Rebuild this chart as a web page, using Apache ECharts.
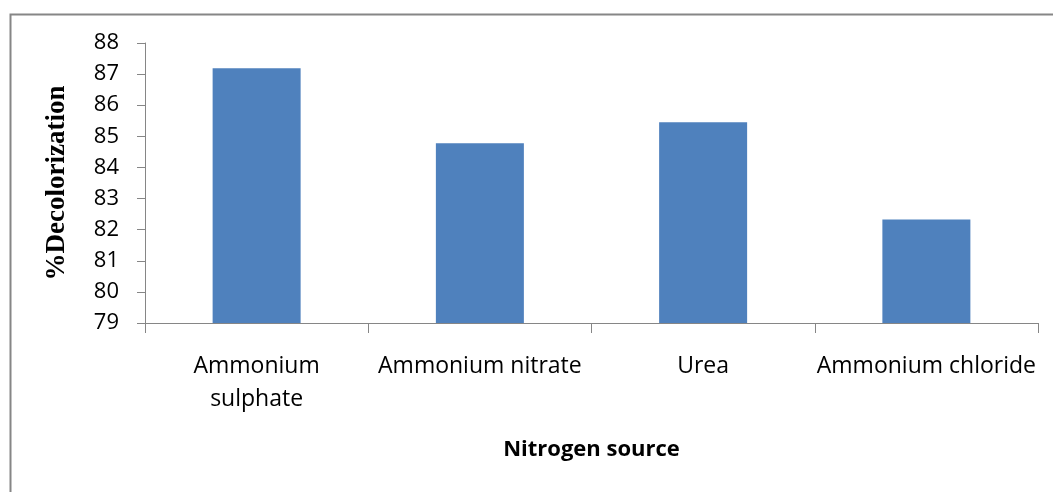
<!DOCTYPE html>
<html>
<head>
  <meta charset="utf-8">
</head>
<body style="margin: 0; background: #fff">
  <div id="container" style="width: 1053px; height: 492px"></div>
  <script type="text/javascript" src="https://cdn.jsdelivr.net/npm/echarts@6/dist/echarts.min.js"></script>
  <script type="text/javascript">
    // nitrogen sources
    var categories = ['Ammonium\nsulphate', 'Ammonium nitrate', 'Urea', 'Ammonium chloride'];
    // % decolorization
    var decolorization = [87.19, 84.78, 85.45, 82.33];
    var yMin = 79, yMax = 88, yStep = 1;

    var axisGray = '#868686';
    var chart = echarts.init(document.getElementById('container'), null, { renderer: 'canvas' });

    var option = {
      animation: false,
      graphic: [{
        type: 'rect',
        left: 8, top: 12,
        shape: { width: 1100, height: 520 },
        style: { fill: 'none', stroke: axisGray, lineWidth: 2 },
        z: -1
      }],
      grid: { left: 145, right: 15, top: 43, bottom: 169 },
      xAxis: {
        type: 'category',
        data: categories,
        name: 'Nitrogen source',
        nameLocation: 'middle',
        nameGap: 116,
        nameTextStyle: { fontFamily: 'Open Sans', fontWeight: 'bold', fontSize: 22, color: '#000', verticalAlign: 'top' },
        axisLine: { lineStyle: { color: axisGray, width: 1 } },
        axisTick: { show: true, length: 10, lineStyle: { color: axisGray } },
        axisLabel: { fontFamily: 'Open Sans', fontSize: 23, color: '#000', margin: 27, lineHeight: 33, interval: 0 }
      },
      yAxis: {
        type: 'value',
        min: yMin, max: yMax, interval: yStep,
        name: '%Decolorization',
        nameLocation: 'middle',
        nameGap: 74,
        nameTextStyle: { fontFamily: 'Liberation Serif', fontWeight: 'bold', fontSize: 27, color: '#000' },
        splitLine: { show: false },
        axisLine: { show: true, lineStyle: { color: axisGray, width: 1 } },
        axisTick: { show: true, length: 8, inside: false, lineStyle: { color: axisGray } },
        axisLabel: { fontFamily: 'Open Sans', fontSize: 22, color: '#000', margin: 26 }
      },
      series: [{
        type: 'bar',
        data: decolorization,
        barWidth: 88,
        itemStyle: { color: '#4F81BD' }
      }]
    };

    chart.setOption(option);
  </script>
</body>
</html>
